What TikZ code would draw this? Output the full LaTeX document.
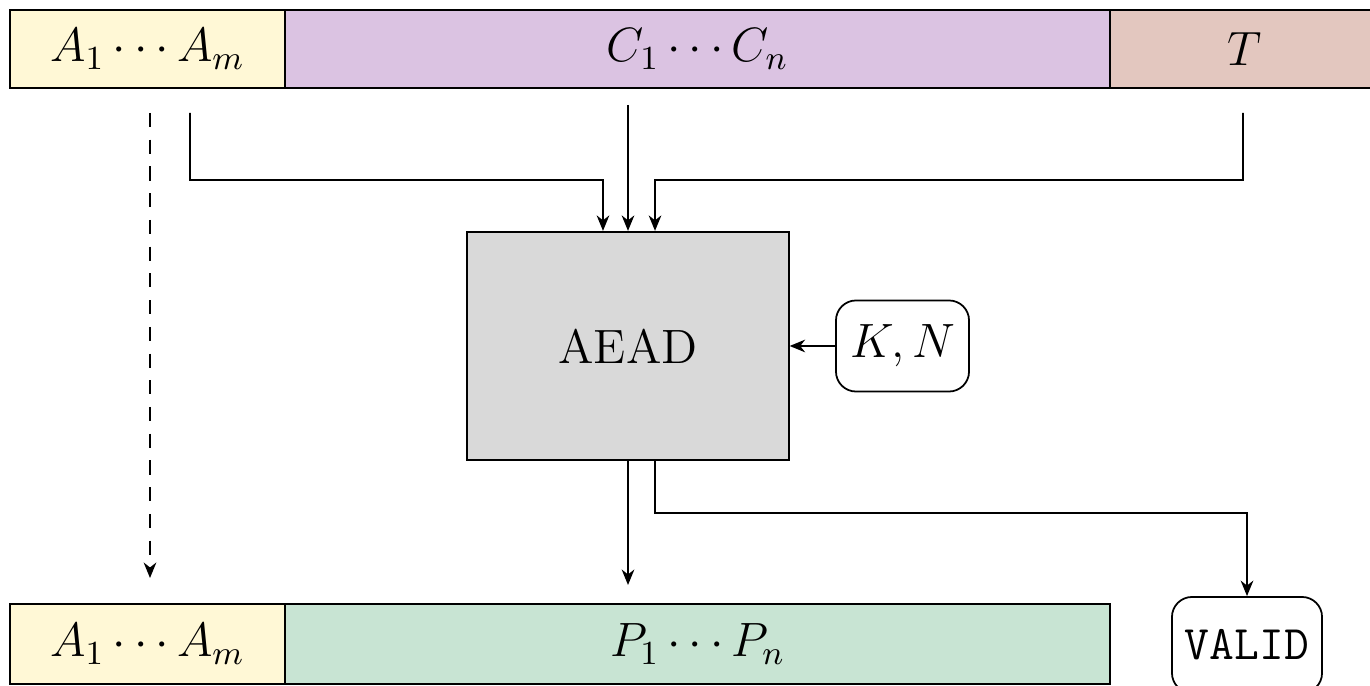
\RequirePackage{fix-cm}
\documentclass[tikz,border=0pt]{standalone}
\usetikzlibrary{arrows.meta,calc}
\definecolor{adcol}{HTML}{FFF8D6}
\definecolor{ctcol}{HTML}{DBC3E2}
\definecolor{tagcol}{HTML}{E3C7BF}
\definecolor{ptcol}{HTML}{C8E4D3}
\definecolor{boxgray}{HTML}{D9D9D9}
\begin{document}
\begin{tikzpicture}[x=0.01cm,y=-0.01cm,
  every node/.style={font=\fontsize{13.7}{16.5}\selectfont},
  field/.style={draw, line width=0.5pt, inner sep=0pt, minimum height=0.78cm},
  rbox/.style={draw, line width=0.5pt, rounded corners=0.2cm, inner sep=0pt},
  conn/.style={line width=0.45pt, -{Stealth[length=4.4pt,width=3.6pt,inset=1.4pt]}}
]
\useasboundingbox (0,0) rectangle (1370,686);

% ciphertext input fields
\node[field, fill=adcol, minimum width=2.75cm] (adin) at (147.5,49) {$A_1\cdots A_m$};
\node[field, fill=ctcol, minimum width=8.25cm] (ct) at (697.5,49) {$C_1\cdots C_n$};
\node[field, fill=tagcol, minimum width=2.7cm] (tag) at (1245,49) {$T$};

% decryption block and key material
\node[draw, line width=0.6pt, fill=boxgray, minimum width=3.21cm, minimum height=2.28cm, inner sep=0pt] (aead) at (628,346) {AEAD};
\node[rbox, minimum width=1.33cm, minimum height=0.91cm] (kn) at (902.5,346) {$K,N$};

% plaintext output fields
\node[field, fill=adcol, minimum width=2.75cm, minimum height=0.8cm] (adout) at (147.5,644) {$A_1\cdots A_m$};
\node[field, fill=ptcol, minimum width=8.25cm, minimum height=0.8cm] (pt) at (697.5,644) {$P_1\cdots P_n$};
\node[rbox, minimum width=1.5cm, minimum height=0.96cm] (valid) at (1247,645) {\ttfamily VALID};

% connector end points
\coordinate (adsrc) at (190,113);
\coordinate (ctsrc) at (628,105);
\coordinate (tagsrc) at (1243,113);
\coordinate (passsrc) at (150,113);
\coordinate (passdst) at (150,578);
\coordinate (ptdst) at (628,585);
\coordinate (tagout) at ([xshift=0.27cm]aead.south);

\draw[conn] (adsrc) |- (603,180) -- ([xshift=-0.25cm]aead.north);
\draw[conn] (ctsrc) -- (aead.north);
\draw[conn] (tagsrc) |- (655,180) -- ([xshift=0.27cm]aead.north);
\draw[conn] (kn.west) -- (kn.west -| aead.east);
\draw[conn, dash pattern=on 4pt off 3.6pt] (passsrc) -- (passdst);
\draw[conn] (aead.south) -- (ptdst);
\draw[conn] (tagout) |- (valid.north |- 0,513) -- (valid.north);
\end{tikzpicture}
\end{document}
